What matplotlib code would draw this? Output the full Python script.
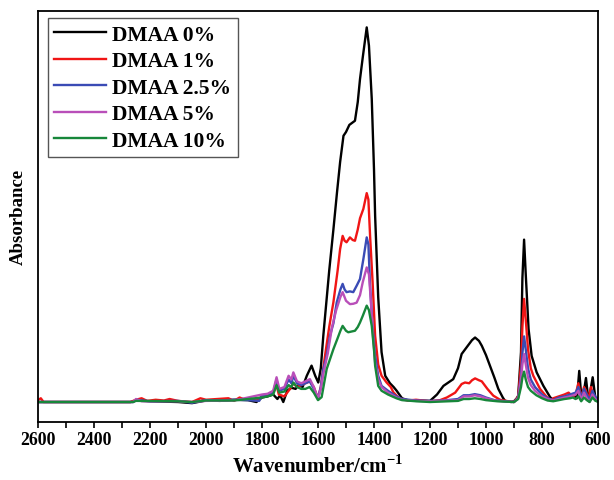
import numpy as np
import matplotlib.pyplot as plt
from matplotlib.ticker import MultipleLocator

plt.rcParams['font.family'] = ['Liberation Serif', 'DejaVu Serif']
plt.rcParams['font.weight'] = 'bold'
plt.rcParams['mathtext.fontset'] = 'custom'
plt.rcParams['mathtext.rm'] = 'Liberation Serif'
plt.rcParams['mathtext.bf'] = 'Liberation Serif:bold'

# FTIR spectra (wavenumber cm-1, absorbance a.u.)
w_0 = [2600, 2270, 2250, 2200, 2100, 2050, 2000, 1950, 1900, 1850, 1820, 1800, 1780, 1760,
       1745, 1735, 1724, 1710, 1695, 1680, 1670, 1655, 1640, 1623, 1610, 1599, 1590, 1581,
       1560, 1545, 1532, 1521, 1509, 1500, 1488, 1468, 1458, 1450, 1440, 1426, 1418, 1408,
       1400, 1396, 1385, 1373, 1360, 1343, 1330, 1319, 1300, 1280, 1250, 1200, 1175, 1152,
       1117, 1100, 1087, 1070, 1050, 1039, 1025, 1015, 1000, 986, 970, 956, 940, 932, 910,
       900, 890, 885, 875, 870, 864, 858, 848, 837, 819, 795, 771, 760, 740, 720, 700, 690,
       675, 667, 659, 650, 643, 634, 627, 619, 608, 600]
a_0 = [0.0, 0.0, 0.004, 0.002, 0.0, -0.003, 0.004, 0.003, 0.006, 0.005, 0.0, 0.012, 0.015, 0.02,
       0.008, 0.018, 0.0, 0.03, 0.038, 0.035, 0.045, 0.04, 0.07, 0.097, 0.07, 0.052, 0.09, 0.177,
       0.35, 0.46, 0.56, 0.64, 0.71, 0.72, 0.739, 0.75, 0.80, 0.861, 0.92, 0.999, 0.95, 0.808,
       0.62, 0.497, 0.28, 0.133, 0.07, 0.05, 0.04, 0.03, 0.01, 0.005, 0.004, 0.003, 0.02, 0.043,
       0.061, 0.09, 0.128, 0.145, 0.165, 0.172, 0.163, 0.150, 0.125, 0.097, 0.065, 0.035, 0.012, 0.003, 0.0,
       0.002, 0.01, 0.017, 0.133, 0.33, 0.433, 0.34, 0.195, 0.123, 0.079, 0.043, 0.013, 0.005, 0.008, 0.01, 0.012, 0.02,
       0.01, 0.083, 0.008, 0.03, 0.064, 0.003, 0.03, 0.066, 0.003, 0.01]

w_1 = [2600, 2590, 2580, 2270, 2250, 2230, 2210, 2180, 2150, 2130, 2100, 2050, 2020, 2000,
       1960, 1920, 1900, 1880, 1860, 1840, 1820, 1800, 1780, 1760, 1748, 1740, 1720, 1700,
       1688, 1675, 1660, 1645, 1630, 1615, 1600, 1590, 1575, 1560, 1545, 1530, 1521, 1512,
       1505, 1498, 1486, 1476, 1468, 1458, 1450, 1438, 1426, 1420, 1414, 1405, 1396, 1385,
       1373, 1355, 1340, 1331, 1310, 1280, 1250, 1200, 1164, 1140, 1110, 1087, 1075, 1060,
       1050, 1039, 1025, 1015, 995, 974, 950, 920, 900, 885, 875, 870, 864, 858, 850, 840,
       831, 807, 785, 770, 760, 740, 720, 705, 690, 680, 670, 660, 650, 643, 635, 625, 618,
       608, 600]
a_1 = [0.005, 0.01, 0.0, 0.0, 0.006, 0.01, 0.003, 0.006, 0.004, 0.008, 0.003, 0.0, 0.01, 0.006,
       0.008, 0.01, 0.003, 0.012, 0.006, 0.008, 0.004, 0.015, 0.02, 0.025, 0.045, 0.02, 0.015, 0.035,
       0.05, 0.04, 0.045, 0.05, 0.055, 0.04, 0.01, 0.04, 0.123, 0.2, 0.266, 0.35, 0.408, 0.443,
       0.43, 0.426, 0.439, 0.432, 0.43, 0.46, 0.49, 0.515, 0.557, 0.54, 0.443, 0.32, 0.177, 0.1,
       0.07, 0.052, 0.04, 0.026, 0.01, 0.004, 0.006, 0.002, 0.005, 0.012, 0.025, 0.048, 0.052, 0.05,
       0.058, 0.063, 0.058, 0.055, 0.035, 0.017, 0.006, 0.002, 0.0, 0.015, 0.1, 0.2, 0.275, 0.22, 0.141, 0.09,
       0.07, 0.035, 0.015, 0.005, 0.01, 0.015, 0.02, 0.025, 0.015, 0.02, 0.05, 0.01, 0.04, 0.03, 0.005, 0.04, 0.02,
       0.005, 0.008]

w_25 = [2600, 2260, 2250, 2200, 2100, 2050, 2000, 1950, 1900, 1850, 1810, 1800, 1780, 1760,
        1748, 1740, 1720, 1705, 1695, 1688, 1675, 1660, 1645, 1629, 1615, 1600, 1590, 1581,
        1570, 1557, 1545, 1533, 1520, 1512, 1505, 1498, 1486, 1474, 1462, 1450, 1438, 1426,
        1420, 1414, 1405, 1396, 1385, 1373, 1350, 1320, 1300, 1250, 1200, 1150, 1100, 1080,
        1060, 1040, 1020, 1000, 970, 930, 900, 885, 875, 870, 864, 858, 850, 840, 825, 800,
        780, 760, 740, 720, 700, 680, 670, 660, 650, 640, 630, 620, 610, 600]
a_25 = [0.0, 0.0, 0.006, 0.002, 0.003, -0.002, 0.005, 0.004, 0.006, 0.005, 0.003, 0.018, 0.02, 0.025,
        0.06, 0.03, 0.035, 0.06, 0.05, 0.07, 0.05, 0.045, 0.05, 0.055, 0.035, 0.01, 0.04, 0.088,
        0.12, 0.177, 0.21, 0.266, 0.3, 0.315, 0.3, 0.293, 0.295, 0.293, 0.31, 0.328, 0.381, 0.439,
        0.42, 0.31, 0.2, 0.123, 0.07, 0.043, 0.03, 0.015, 0.008, 0.004, 0.003, 0.004, 0.008, 0.018,
        0.018, 0.021, 0.018, 0.012, 0.005, 0.002, 0.0, 0.012, 0.07, 0.13, 0.175, 0.14, 0.09, 0.06, 0.04, 0.02,
        0.01, 0.005, 0.012, 0.015, 0.02, 0.025, 0.04, 0.01, 0.035, 0.02, 0.005, 0.03, 0.015, 0.005]

w_5 = [2600, 2260, 2250, 2230, 2100, 2050, 2000, 1900, 1800, 1780, 1760, 1748, 1738, 1720,
       1705, 1695, 1688, 1675, 1660, 1645, 1629, 1615, 1600, 1590, 1581, 1565, 1550, 1535,
       1520, 1512, 1500, 1486, 1474, 1462, 1450, 1440, 1426, 1418, 1411, 1403, 1396, 1385,
       1373, 1350, 1320, 1300, 1250, 1200, 1100, 1080, 1060, 1040, 1020, 1000, 970, 930, 900,
       885, 875, 870, 864, 858, 850, 840, 825, 800, 780, 760, 740, 720, 700, 680, 670, 660,
       650, 640, 630, 620, 610, 600]
a_5 = [0.0, 0.0, 0.008, 0.002, 0.002, 0.0, 0.003, 0.004, 0.02, 0.022, 0.03, 0.066, 0.035, 0.04,
       0.07, 0.06, 0.079, 0.055, 0.05, 0.055, 0.061, 0.04, 0.008, 0.035, 0.075, 0.13, 0.2, 0.245,
       0.28, 0.293, 0.27, 0.261, 0.262, 0.265, 0.285, 0.32, 0.359, 0.34, 0.266, 0.17, 0.105, 0.06,
       0.04, 0.025, 0.012, 0.006, 0.003, 0.002, 0.005, 0.015, 0.015, 0.018, 0.015, 0.01, 0.004, 0.001, 0.0,
       0.01, 0.06, 0.1, 0.128, 0.1, 0.065, 0.045, 0.03, 0.015, 0.008, 0.004, 0.008, 0.012, 0.015, 0.02, 0.03, 0.005,
       0.025, 0.01, 0.0, 0.02, 0.008, 0.003]

w_10 = [2600, 2260, 2250, 2100, 2050, 2000, 1900, 1800, 1780, 1760, 1748, 1738, 1720, 1705,
        1695, 1688, 1675, 1660, 1645, 1630, 1615, 1600, 1587, 1569, 1545, 1530, 1520, 1512,
        1500, 1492, 1480, 1468, 1458, 1450, 1440, 1426, 1418, 1408, 1400, 1396, 1385, 1373,
        1350, 1320, 1300, 1250, 1200, 1100, 1080, 1060, 1040, 1020, 1000, 960, 900, 885, 875,
        870, 864, 858, 850, 840, 820, 800, 780, 760, 740, 720, 700, 690, 680, 670, 660, 650,
        640, 630, 620, 610, 600]
a_10 = [0.0, 0.0, 0.003, 0.002, 0.0, 0.004, 0.004, 0.012, 0.015, 0.02, 0.045, 0.025, 0.028, 0.045,
        0.04, 0.052, 0.04, 0.035, 0.035, 0.04, 0.025, 0.005, 0.013, 0.088, 0.141, 0.17, 0.19, 0.203,
        0.19, 0.186, 0.188, 0.19, 0.2, 0.212, 0.23, 0.257, 0.245, 0.203, 0.14, 0.097, 0.043, 0.03,
        0.02, 0.01, 0.005, 0.002, 0.0, 0.003, 0.008, 0.008, 0.01, 0.008, 0.005, 0.002, 0.0, 0.008, 0.04,
        0.065, 0.081, 0.06, 0.04, 0.03, 0.018, 0.01, 0.004, 0.002, 0.005, 0.008, 0.01, 0.012, 0.008, 0.015, 0.002, 0.012,
        0.005, 0.0, 0.012, 0.004, 0.0]

series = [
    ('DMAA 0%', w_0, a_0, 'black'),
    ('DMAA 1%', w_1, a_1, '#f01515'),
    ('DMAA 2.5%', w_25, a_25, '#3a4bb5'),
    ('DMAA 5%', w_5, a_5, '#b94fb9'),
    ('DMAA 10%', w_10, a_10, '#17873a'),
]

fig = plt.figure(figsize=(6.14, 4.81), dpi=100)
ax = fig.add_axes([38/614, 1 - 422.7/481, 560/614, (422.7 - 12)/481])

for label, w, a, c in series:
    ax.plot(w, a, color=c, lw=1.7, label=label)

ax.set_xlim(2600, 600)
ax.set_ylim(-0.0525, 1.0427)
ax.xaxis.set_major_locator(MultipleLocator(200))
ax.xaxis.set_minor_locator(MultipleLocator(100))
ax.tick_params(axis='x', which='both', direction='out', length=4, width=1.2,
               labelsize=12.8, pad=3, top=False)
ax.set_yticks([])
for s in ax.spines.values():
    s.set_linewidth(1.3)

ax.set_xlabel('Wavenumber/cm$^{\\mathrm{-1}}$', fontsize=15, fontweight='bold', labelpad=4)
ax.set_ylabel('Absorbance', fontsize=13.5, fontweight='bold', labelpad=8)

leg = ax.legend(loc='upper left', bbox_to_anchor=(47.7/614, 1 - 19.3/481),
                bbox_transform=fig.transFigure, borderaxespad=0,
                prop={'size': 15.5, 'weight': 'bold'}, handlelength=2.4,
                handletextpad=0.3, labelspacing=0.3, borderpad=0.3,
                fancybox=False, edgecolor='#555555', framealpha=1)
leg.get_frame().set_linewidth(1.0)
for line in leg.get_lines():
    line.set_linewidth(1.7)

fig.savefig('out.png', dpi=100)
